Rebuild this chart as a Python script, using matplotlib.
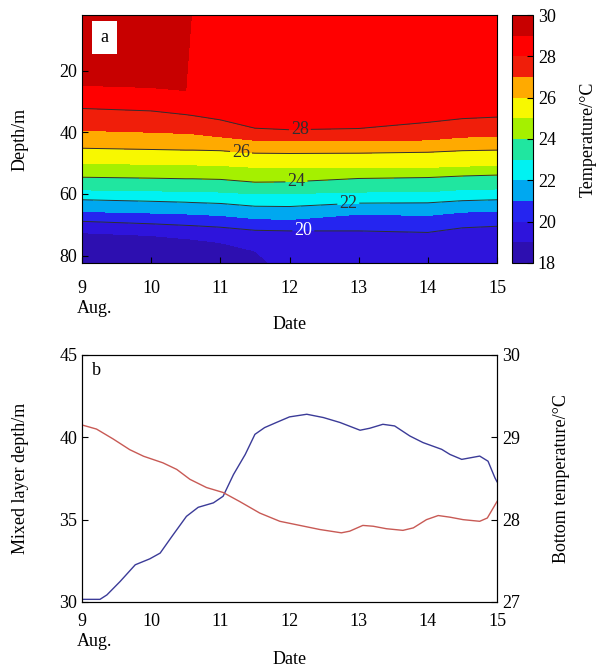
import numpy as np
import matplotlib
matplotlib.use("Agg")
import matplotlib.pyplot as plt

plt.rcParams['font.family'] = ['Liberation Serif', 'DejaVu Serif']
plt.rcParams['font.size'] = 13

# panel a: depth (m) of each isotherm at a few dates
dates_a = [9, 10, 10.5, 10.6, 11, 11.5, 12, 13, 14, 14.5, 15]
surface_t = [29.4, 29.4, 29.4, 28.95, 28.95, 28.95, 28.95, 28.95, 28.95, 28.95, 28.95]
iso_29 = [24.8, 25.5, 26.5, 0.3, 0.3, 0.3, 0.3, 0.3, 0.3, 0.3, 0.3]
iso_28 = [32.3, 33.1, 34.3, 34.6, 36.0, 38.7, 39.2, 38.8, 36.8, 35.6, 35.1]
iso_27 = [39.4, 40.0, 40.4, 40.5, 41.5, 42.6, 42.8, 42.8, 42.5, 41.6, 41.3]
iso_26 = [45.2, 45.6, 45.8, 45.8, 46.0, 46.8, 46.9, 46.8, 46.5, 46.0, 45.8]
iso_25 = [50.1, 50.4, 50.6, 50.6, 50.8, 51.4, 51.6, 51.5, 51.4, 51.0, 50.8]
iso_24 = [54.6, 54.9, 55.1, 55.1, 55.3, 56.2, 56.1, 55.0, 54.7, 54.2, 53.9]
iso_23 = [58.7, 59.0, 59.2, 59.2, 59.4, 60.0, 59.9, 59.4, 59.3, 58.6, 58.4]
iso_22 = [61.9, 62.4, 62.7, 62.8, 63.1, 64.0, 64.1, 63.0, 62.9, 62.2, 61.9]
iso_21 = [65.7, 66.2, 66.5, 66.6, 67.0, 68.0, 68.3, 66.6, 67.0, 65.9, 65.7]
iso_20 = [68.9, 69.7, 70.2, 70.3, 70.8, 71.8, 72.0, 72.0, 72.5, 71.0, 70.5]
iso_19 = [72.6, 73.5, 74.5, 74.7, 75.8, 78.5, 88.0, 88.0, 88.0, 88.0, 88.0]
bottom_t = 18.5
bottom_depth = 95

band_colors = ['#2d0fb0', '#2e14dc', '#2525f0', '#00a8f0', '#00f2f2', '#20e6a0',
               '#a5f000', '#f8f800', '#ffaa00', '#f01e0a', '#ff0000', '#c80000']

# panel b
mld_dates = [9.0, 9.26, 9.36, 9.55, 9.77, 9.98, 10.13, 10.30, 10.51, 10.68, 10.90,
             11.04, 11.19, 11.36, 11.50, 11.64, 11.81, 12.0, 12.25, 12.49, 12.73,
             13.02, 13.16, 13.35, 13.52, 13.74, 13.93, 14.20, 14.32, 14.49, 14.75,
             14.87, 14.97, 15.0]
mld = [30.16, 30.16, 30.43, 31.24, 32.26, 32.62, 32.97, 33.98, 35.2, 35.75, 36.02,
       36.42, 37.74, 38.96, 40.18, 40.59, 40.90, 41.24, 41.40, 41.20, 40.90,
       40.43, 40.55, 40.79, 40.69, 40.08, 39.68, 39.27, 38.96, 38.66, 38.86,
       38.55, 37.54, 37.3]
bt_dates = [9.0, 9.21, 9.45, 9.69, 9.89, 10.17, 10.37, 10.56, 10.80, 11.04, 11.28,
            11.57, 11.86, 12.15, 12.44, 12.75, 12.87, 13.06, 13.21, 13.40, 13.64,
            13.79, 13.98, 14.15, 14.32, 14.51, 14.75, 14.86, 15.0]
bt = [29.15, 29.10, 28.98, 28.85, 28.77, 28.69, 28.61, 28.49, 28.39, 28.33, 28.22,
      28.08, 27.98, 27.93, 27.88, 27.84, 27.86, 27.93, 27.92, 27.89, 27.87,
      27.90, 28.00, 28.05, 28.03, 28.00, 27.98, 28.02, 28.22]

fig = plt.figure(figsize=(6.02, 6.70), dpi=100)

# ---- panel a
iso_rows = [iso_29, iso_28, iso_27, iso_26, iso_25, iso_24, iso_23, iso_22, iso_21, iso_20, iso_19]
iso_vals = [29, 28, 27, 26, 25, 24, 23, 22, 21, 20, 19]
n = len(dates_a)
Y = np.vstack([np.zeros(n)] + [np.array(r) for r in iso_rows] + [np.full(n, bottom_depth)])
Z = np.vstack([np.array(surface_t)] + [np.full(n, v) for v in iso_vals] + [np.full(n, bottom_t)])
X = np.tile(np.array(dates_a), (Y.shape[0], 1))

ax = fig.add_axes([0.1362, 0.6075, 0.6894, 0.3701])
cf = ax.contourf(X, Y, Z, levels=np.arange(18, 31, 1), colors=band_colors)
cs = ax.contour(X, Y, Z, levels=[20, 22, 24, 26, 28], colors='#303030', linewidths=0.7)
labels = ax.clabel(cs, fmt='%d', fontsize=13, inline=True, inline_spacing=2,
                   manual=[(12.15, 39.2), (11.3, 46.2), (12.1, 56.0), (12.85, 63.0), (12.2, 72.0)])
for t in labels:
    t.set_rotation(0)
    if t.get_text() == '20':
        t.set_color('white')

ax.set_xlim(9, 15)
ax.set_ylim(82.4, 2.0)
ax.set_yticks([20, 40, 60, 80])
ax.set_xticks(range(9, 16))
ax.tick_params(direction='in', length=4, width=0.8)
ax.tick_params(axis='x', pad=12)
ax.set_ylabel('Depth/m')
ax.yaxis.set_label_coords(-0.13, 0.5)
ax.set_xlabel('Date')
ax.xaxis.set_label_coords(0.5, -0.215)
ax.text(-0.012, -0.148, 'Aug.', transform=ax.transAxes, ha='left', va='top')
ax.text(0.054, 0.908, 'a', transform=ax.transAxes, ha='center', va='center',
        bbox=dict(boxstyle='square,pad=0.45', fc='white', ec='none'))

cax = fig.add_axes([0.8505, 0.6075, 0.0349, 0.3701])
cb = fig.colorbar(cf, cax=cax, ticks=range(18, 31, 2))
cb.ax.tick_params(direction='in', length=4, width=0.8)
cb.set_label('Temperature/°C', labelpad=17)

# ---- panel b
ax2 = fig.add_axes([0.1362, 0.1015, 0.6894, 0.3687])
ax2.plot(mld_dates, mld, color='#3b3b98', lw=1.0)
ax2.set_xlim(9, 15)
ax2.set_ylim(30, 45)
ax2.set_yticks([30, 35, 40, 45])
ax2.set_xticks(range(9, 16))
ax2.tick_params(direction='in', length=4, width=0.8)
ax2.tick_params(axis='x', length=0, pad=8)
ax2.set_ylabel('Mixed layer depth/m')
ax2.yaxis.set_label_coords(-0.128, 0.5)
ax2.set_xlabel('Date')
ax2.xaxis.set_label_coords(0.5, -0.2)
ax2.text(-0.012, -0.126, 'Aug.', transform=ax2.transAxes, ha='left', va='top')
ax2.text(0.025, 0.97, 'b', transform=ax2.transAxes, ha='left', va='top')

axr = ax2.twinx()
axr.plot(bt_dates, bt, color='#c85a55', lw=1.0)
axr.set_ylim(27, 30)
axr.set_yticks([27, 28, 29, 30])
axr.tick_params(direction='in', length=4, width=0.8)
axr.set_ylabel('Bottom temperature/°C')
axr.yaxis.set_label_coords(1.135, 0.5)

fig.savefig('out.png', dpi=100)
